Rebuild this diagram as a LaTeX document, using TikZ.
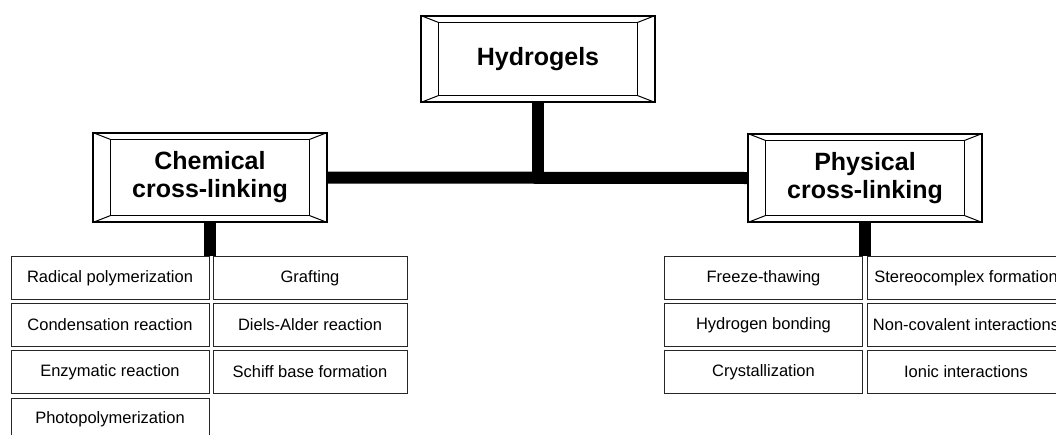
\documentclass[tikz,border=0pt]{standalone}
\usepackage{fontspec}
\setmainfont{Liberation Sans}
\tikzset{
  topbox/.style={draw, line width=1.2pt, fill=white, inner sep=0pt,
    minimum width=234pt, align=center,
    font=\fontsize{25}{28}\selectfont\bfseries},
  cell/.style={draw=black!85, line width=0.8pt, inner sep=0pt,
    minimum width=198pt, minimum height=43pt,
    font=\fontsize{16.5}{19}\selectfont},
  narrowcell/.style={cell, minimum width=194pt},
  stem/.style={line width=12pt},
}
% inner frame and corner bevels of a title box
\newcommand{\bevel}[1]{%
  \draw[line width=1.1pt] ([shift={(18,7)}]#1.north west) rectangle ([shift={(-18,-7)}]#1.south east);
  \draw[line width=1pt] (#1.north west) -- ([shift={(18,7)}]#1.north west)
    (#1.north east) -- ([shift={(-18,7)}]#1.north east)
    (#1.south west) -- ([shift={(18,-7)}]#1.south west)
    (#1.south east) -- ([shift={(-18,-7)}]#1.south east);
}
\begin{document}
\begin{tikzpicture}[x=1pt, y=-1pt]
\useasboundingbox (0,0) rectangle (1056,434);
\clip (0,0) rectangle (1056,434);

\node[topbox, minimum height=86pt] (hyd) at (538,59) {Hydrogels};
\node[topbox, minimum height=89pt] (chem) at (210,177.5) {Chemical\\cross-linking};
\node[topbox, minimum height=88pt] (phys) at (865,178) {Physical\\cross-linking};
\bevel{hyd}
\bevel{chem}
\bevel{phys}

% chemical methods
\node[cell] (rad) at (110,278) {Radical polymerization};
\node[narrowcell] (graft) at (310,278) {Grafting};
\node[cell] (cond) at (110,325) {Condensation reaction};
\node[narrowcell] (diels) at (310,325) {Diels-Alder reaction};
\node[cell] (enz) at (110,372) {Enzymatic reaction};
\node[narrowcell] (schiff) at (310,372) {Schiff base formation};
\node[cell] (photo) at (110,419.5) {Photopolymerization};

% physical methods
\node[cell] (freeze) at (763.5,278) {Freeze-thawing};
\node[cell] (stereo) at (966,278) {Stereocomplex formation};
\node[cell] (hbond) at (763.5,325) {Hydrogen bonding};
\node[cell] (noncov) at (966,325) {Non-covalent interactions};
\node[cell] (cryst) at (763.5,372) {Crystallization};
\node[cell] (ionic) at (966,372) {Ionic interactions};

\coordinate (j) at (538,177);
\draw[stem] (chem.east) -- (phys.west);
\draw[stem] (hyd.south) -- (j);
\draw[stem] (chem.south) -- (chem.south |- rad.north);
\draw[stem] (phys.south) -- (phys.south |- freeze.north);

\end{tikzpicture}
\end{document}
